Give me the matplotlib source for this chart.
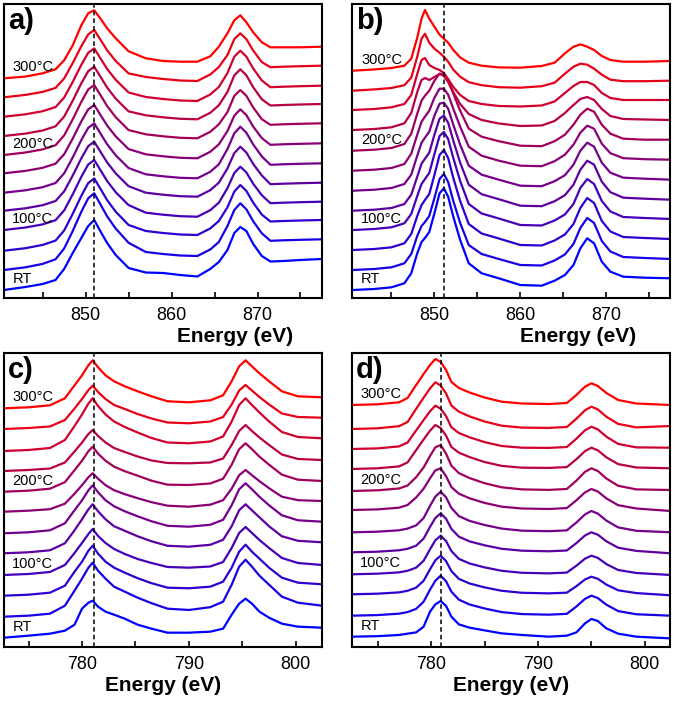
import numpy as np
import matplotlib.pyplot as plt
from matplotlib.ticker import MultipleLocator

plt.rcParams["font.family"] = ["Liberation Sans", "DejaVu Sans"]

# temperature labels shown next to some of the 12 stacked curves (RT ... 300°C, 25°C steps)
label_rows = {0: "RT", 3: "100°C", 7: "200°C", 11: "300°C"}

# ---- panel a : energies, curve offsets and intensities (relative to each curve start)
a_energy = [840.5, 843, 845, 846.5, 847.5, 848.5, 849.5, 850.3, 851, 851.7, 852.5, 853.5, 855, 857, 859,
            861, 863, 864.5, 865.5, 866.5, 867.3, 868, 868.7, 869.5, 870.5, 871.5, 873, 875, 877.5]
a_offset = [8, 28, 47.3, 68, 87.3, 105.3, 124.7, 143, 162, 181.3, 200.7, 219.7]
a_spectra = [
    [0, 3, 6, 10, 21, 37, 52, 64, 70, 59, 47, 35, 22, 17.5, 17, 15, 13.5, 21, 28, 40, 57, 63, 59, 46, 34, 28.5, 29, 30, 31],
    [0, 2.7, 6.1, 10.7, 21.5, 39, 58.3, 71.7, 76.7, 66, 53.7, 41.4, 27.2, 18, 16, 14.5, 14, 20.5, 28, 44, 60, 66.7, 60.7, 48.7, 36.7, 29.2, 29.7, 30.2, 30.7],
    [0, 2.5, 5.8, 10.1, 20.2, 36.9, 54.9, 67.6, 72.3, 62.2, 50.6, 39, 25.7, 19.7, 17.7, 16.2, 15.7, 22.2, 29.7, 43.4, 59.1, 65.7, 59.8, 48, 36.1, 29.2, 29.7, 30.2, 30.7],
    [0, 2.5, 5.6, 9.8, 19.6, 35.7, 53.2, 65.5, 70, 60.2, 49, 37.8, 24.9, 17.3, 15.3, 13.8, 13.3, 19.8, 27.3, 41.8, 57, 63.3, 57.6, 46.2, 34.8, 26.8, 27.3, 27.8, 28.3],
    [0, 2.4, 5.5, 9.7, 19.3, 35.2, 52.4, 64.5, 69, 59.3, 48.3, 37.3, 24.5, 18, 16, 14.5, 14, 20.5, 28, 42.2, 57.6, 64, 58.2, 46.7, 35.2, 26.5, 27, 27.5, 28],
    [0, 2.4, 5.5, 9.7, 19.4, 35.3, 52.7, 64.8, 69.3, 59.6, 48.5, 37.4, 24.6, 18.4, 16.4, 14.9, 14.4, 20.9, 28.4, 43.6, 59.4, 66, 60, 48.2, 36.3, 27.9, 28.4, 28.9, 29.4],
    [0, 2.4, 5.5, 9.6, 19.1, 34.8, 51.9, 63.9, 68.3, 58.7, 47.8, 36.9, 24.2, 19, 17, 15.5, 15, 21.5, 29, 42.2, 57.6, 64, 58.2, 46.7, 35.2, 28.5, 29, 29.5, 30],
    [0, 2.5, 5.6, 9.8, 19.6, 35.7, 53.2, 65.5, 70, 60.2, 49, 37.8, 24.9, 20.7, 18.7, 17.2, 16.7, 23.2, 30.7, 42.9, 59.2, 65, 59.2, 47.5, 35.8, 30.2, 30.7, 31.2, 31.7],
    [0, 2.4, 5.5, 9.7, 19.4, 35.3, 52.7, 64.8, 69.3, 59.6, 48.5, 37.4, 24.6, 20.7, 18.7, 17.2, 16.7, 23.2, 30.7, 44, 60.7, 66.7, 60.7, 48.7, 36.7, 30.5, 31, 31.5, 32],
    [0, 2.4, 5.5, 9.6, 19.1, 34.8, 51.9, 63.9, 68.3, 58.7, 47.8, 36.9, 24.2, 19.7, 17.7, 16.2, 15.7, 22.2, 29.7, 43.6, 60.1, 66, 60.1, 48.2, 36.3, 29.5, 30, 30.5, 31],
    [0, 2.4, 5.4, 9.4, 18.8, 34.3, 51.1, 62.9, 67.3, 57.9, 47.1, 36.3, 23.9, 20.3, 18.3, 16.8, 16.3, 22.8, 30.3, 42.2, 58.2, 64, 58.2, 46.7, 35.2, 30.1, 30.6, 31.1, 31.6],
    [0, 1.7, 5, 9, 18, 33, 53, 65, 68, 60, 50, 40, 27, 20, 17.3, 16.6, 16.6, 22, 31.6, 45, 58, 63, 56, 46, 36, 31, 31, 31, 31.6],
]

# ---- panel b
b_energy = [840.5, 843, 845, 846.5, 847.3, 848, 848.5, 848.9, 849.4, 850, 850.6, 851.1, 851.6, 852.2, 853, 854,
            855.5, 857.5, 860, 862.5, 864, 865.2, 866.2, 867, 867.8, 868.6, 869.5, 870.5, 872, 874.5, 877.5]
b_offset = [8, 28, 48, 68, 87.3, 107.3, 127.3, 147.3, 168, 188, 207.3, 227.3]
b_spectra = [
    [0, 1, 2.7, 6.7, 16.7, 36.7, 48, 52, 58, 76.7, 96.7, 101.7, 93.3, 73.3, 50, 26.7, 16.7, 11.7, 5, 4.3, 9.3, 15, 25, 41.7, 51.7, 46.7, 28.3, 18.3, 13.3, 12.3, 11.7],
    [0, 1, 2.7, 6.7, 16, 34, 44, 48, 54, 72, 91, 96, 88, 69, 47, 25, 16, 11, 5, 4.5, 9.5, 15.5, 26, 42, 52, 47, 29, 18.5, 13, 12, 11],
    [0, 1, 2.7, 6.7, 16, 34, 45, 50, 56, 75, 95, 100, 92, 72, 49, 26, 16.5, 11.5, 5, 4.5, 9.5, 15.5, 26, 42, 52, 47, 29, 18.5, 13, 12, 11],
    [0, 1, 2.7, 6.7, 16, 34, 46, 51, 57, 76, 94, 98, 91, 72, 49, 26, 16.5, 11.5, 5, 4.5, 9.5, 15.5, 26, 42, 51, 46, 29, 18.5, 13, 12, 11],
    [0, 1, 2.7, 6.7, 16, 34, 47, 52, 58, 76, 92, 95, 88, 70, 48, 26, 16.5, 11.5, 5, 4.5, 9.5, 15.5, 26, 41, 50, 46, 29, 18.5, 13, 12, 11],
    [0, 1, 2.7, 6.7, 16, 35, 48, 53, 59, 75, 87, 88, 82, 66, 46, 25, 16, 11, 5, 4.5, 9.5, 15.5, 26, 40, 48, 44, 28, 18, 13, 12, 11],
    [0, 1, 2.7, 6.7, 17, 36, 49, 54, 60, 73, 82, 82, 76, 62, 44, 24, 15, 10, 5, 4.5, 9.5, 16, 26, 38, 45, 42, 27, 17.5, 12.5, 11.5, 11],
    [0, 1, 2.7, 6.7, 17, 37, 50, 55, 60, 70, 77, 76, 70, 57, 40, 22, 14, 9.5, 5, 4.5, 9.5, 16, 26, 36, 42, 39, 26, 17, 12, 11, 11],
    [0, 1, 2.7, 6.7, 17, 38, 50, 52, 50, 53, 56, 54, 48, 38, 26, 16, 10, 6.5, 4, 4.5, 9, 17, 25, 31, 33, 30, 21, 14, 11, 10.5, 10],
    [0, 1, 2.7, 6, 15, 36, 50, 52, 45, 42, 40, 37, 31, 23, 15, 9, 6, 4, 3.5, 4.5, 8.5, 17, 24, 28, 28, 25, 17, 12, 10, 10, 10],
    [0, 1.3, 2.7, 5.5, 13, 34, 52, 57, 48, 42, 38, 34, 29, 21, 14, 8.5, 5.5, 3.5, 3, 4.5, 8, 17, 24, 27, 26, 22, 16, 11, 9.5, 9.5, 10],
    [0, 1.3, 2.7, 5, 12, 33, 52, 60.7, 52, 44, 36, 32, 28, 20.7, 13.3, 8, 5, 3.3, 3, 4.7, 8, 17.3, 24, 26.3, 24, 20.7, 14.7, 10.7, 9, 9, 9.7],
]

# ---- panel c
c_energy = [772.7, 775, 777, 778.4, 779.3, 780.0, 780.6, 781.0, 781.5, 782.2, 783.0, 784.0, 785.2, 786.5,
            788, 790, 792, 793.2, 794.0, 794.7, 795.3, 795.9, 796.6, 797.5, 798.7, 800.2, 802.45]
c_offset = [9, 30, 51, 71.7, 93.4, 113.4, 135, 155, 175.7, 195.7, 217.7, 238.4]
c_spectra = [
    [0, 2, 4, 7, 13, 29, 35, 37, 31, 26, 23, 19, 13, 9, 5, 5, 6, 9, 23, 34, 39, 34, 26, 20, 14, 11, 10],
    [0, 1, 3, 11, 26, 38, 49, 54, 46, 38, 30, 25, 19, 13.5, 8, 6.7, 9.5, 15, 32, 50, 57, 50, 41, 32, 20, 14, 11],
    [0, 1, 3, 10, 24, 34, 45, 50, 42, 34, 28, 23, 17.5, 12.5, 8, 7.4, 9, 14, 28, 44, 51, 44, 37, 28, 18, 13, 11.4],
    [0, 1, 3, 10, 22, 32, 41, 46, 39, 32, 26, 21, 16, 12, 8, 7.3, 8.5, 13, 27, 42, 48, 42, 35, 27, 17, 12, 10],
    [0, 1, 3, 10, 23, 34, 44, 49, 42, 34, 27, 22.5, 17, 12, 7.5, 6.6, 8.5, 13.5, 27, 43, 49, 43, 36, 27, 17, 12.5, 11],
    [0, 1, 3, 10, 23, 33, 43, 48, 41, 33, 27, 22, 17, 12, 7.5, 6.6, 8.5, 13.5, 28, 44, 50, 44, 36.5, 28, 18, 13, 11.6],
    [0, 1, 2.5, 8, 18, 26.5, 34.5, 38.4, 33, 26.5, 21.5, 17.5, 13.5, 9.5, 6, 5, 7, 11.5, 23, 36.5, 41.7, 36.5, 30.5, 23.5, 15, 11.5, 10.7],
    [0, 1, 3, 9.5, 21.5, 31, 40.5, 45, 38, 31, 25, 20.5, 16, 11, 7, 6.7, 8.2, 13, 27, 42.5, 48.4, 42.5, 35, 27, 17, 12, 10.7],
    [0, 1, 2.5, 8.5, 19.5, 28.5, 37, 41, 35, 28.5, 23, 19, 14.5, 10.5, 8, 7.7, 8.5, 12.5, 26, 40, 46, 40, 33.5, 26, 16.5, 12, 11],
    [0, 1, 3, 11, 25, 36.5, 47.5, 52.7, 45, 36.5, 29.5, 24, 18.5, 13, 8.5, 7.7, 9.5, 14.5, 29.5, 46, 52.7, 46, 38.5, 29.5, 19, 14, 12.7],
    [0, 1, 2.5, 9, 20.5, 30, 39, 43.3, 37, 30, 24, 20, 15, 10.5, 6.5, 5.7, 7.5, 12, 24.5, 38.5, 44, 38.5, 32, 24.5, 15.5, 12, 11.3],
    [0, 1, 3, 10, 23, 33, 43, 48, 41, 33, 27, 22, 17, 12, 7, 6, 8, 13, 27, 42, 48, 42, 35, 27, 17, 12, 11],
]

# ---- panel d
d_energy = [772.6, 775, 777, 777.8, 778.6, 779.3, 779.9, 780.4, 780.9, 781.4, 781.9, 782.6, 783.6, 785,
            786.6, 788.5, 791, 792.7, 793.6, 794.4, 795.0, 795.6, 796.4, 797.5, 799.2, 802.4]
d_offset = [10, 31, 52.4, 72.4, 94.4, 114.4, 136.7, 155.7, 177.7, 197.7, 217.7, 241.7]
d_spectra = [
    [0, 0.5, 1.7, 3, 4.3, 10, 25, 32.3, 35.7, 30.7, 20, 12.3, 9, 6.3, 3.3, 1.7, 0, 1, 4.3, 13.3, 17.7, 15.7, 8.3, 3, 0, -1.7],
    [0, 0.6, 2, 3.6, 6.8, 14, 26, 35, 40, 34.4, 24, 16, 11.2, 7.2, 3.6, 1.6, 1, 1.8, 9.2, 16.8, 20, 17.6, 11, 4.6, 1.4, 0],
    [0, 0.6, 1.9, 3.5, 6.6, 13.5, 25, 34, 38.6, 33.2, 23.2, 15.4, 10.8, 6.9, 3.5, 1.5, 0.9, 1.6, 8.1, 14.8, 17.6, 15.5, 9.7, 4, 1.2, -1],
    [0, 0.6, 1.9, 3.5, 6.6, 13.5, 25, 34, 38.6, 33.2, 23.2, 15.4, 10.8, 6.9, 3.5, 1.5, 0.9, 1.7, 8.6, 15.6, 18.6, 16.4, 10.2, 4.3, 1.3, -0.7],
    [0, 0.6, 2, 3.5, 6.6, 13.7, 25.4, 34.3, 39, 33.5, 23.4, 15.6, 10.9, 7, 3.5, 1.6, 1, 1.8, 9.2, 16.8, 20, 17.6, 11, 4.6, 1.4, -1],
    [0, 0.6, 2, 3.7, 6.9, 14.2, 26.4, 35.7, 40.6, 34.9, 24.4, 16.2, 11.4, 7.3, 3.7, 1.6, 1.1, 1.9, 9.8, 17.9, 21.3, 18.7, 11.7, 4.9, 1.5, 0],
    [0, 0.6, 2.3, 5, 12.5, 21.3, 31.7, 39.6, 41.7, 33.8, 22.9, 16.3, 11.7, 7.1, 3.3, 1.5, 1, 1.9, 9.7, 17.6, 21, 18.5, 11.6, 4.8, 1.5, -1],
    [0, 0.7, 2.5, 5.5, 13.8, 23.5, 35, 43.7, 46, 37.3, 25.3, 17.9, 12.9, 7.8, 3.7, 1.6, 1.1, 2, 10.4, 19.1, 22.7, 20, 12.5, 5.2, 1.6, 1],
    [0, 0.7, 2.6, 6.6, 18.9, 29.5, 38.3, 44, 40.9, 33.4, 22, 16.3, 11.9, 7, 3.1, 1.3, 1.1, 1.9, 9.8, 17.9, 21.3, 18.7, 11.7, 4.9, 1.5, 0.7],
    [0, 0.6, 2.6, 6.5, 18.6, 29, 37.7, 43.3, 40.3, 32.9, 21.7, 16, 11.7, 6.9, 3, 1.3, 1.1, 2, 10.3, 18.7, 22.3, 19.6, 12.3, 5.1, 1.6, 1.3],
    [0, 0.7, 2.8, 7, 20.1, 31.3, 40.6, 46.7, 43.4, 35.5, 23.4, 17.3, 12.6, 7.5, 3.3, 1.4, 1.1, 2, 10.3, 18.7, 22.3, 19.6, 12.3, 5.1, 1.6, 3],
    [0, 0.7, 2.7, 7, 20, 31, 40, 46, 43, 35, 23, 17, 12.5, 7.5, 3.3, 1.5, 1, 2, 10, 18.3, 21.7, 19, 12, 5, 1.5, 0],
]

# letter, data, dashed line, limits, axes rect, xlabel position
panels = [
    ("a)", a_energy, a_offset, a_spectra, 851.0, (840.5, 877.5), (0, 294), [0.0059, 0.5749, 0.4711, 0.4194], (0.727, -0.1)),
    ("b)", b_energy, b_offset, b_spectra, 851.1, (840.4, 877.5), (0, 294), [0.5215, 0.5749, 0.4718, 0.4194], (0.71, -0.1)),
    ("c)", c_energy, c_offset, c_spectra, 781.1, (772.7, 802.45), (0, 293.4), [0.0059, 0.0775, 0.4711, 0.4185], (0.5, -0.1)),
    ("d)", d_energy, d_offset, d_spectra, 780.9, (772.6, 802.4), (0, 293.4), [0.5215, 0.0775, 0.4718, 0.4185], (0.5, -0.1)),
]

n_curves = 12
colors = [(i / (n_curves - 1), 0.0, 1.0 - i / (n_curves - 1)) for i in range(n_curves)]

fig = plt.figure(figsize=(6.75, 7.01), dpi=100)

for letter, energy, offset, spectra, dash_x, xlim, ylim, rect, label_pos in panels:
    ax = fig.add_axes(rect)
    energy = np.array(energy)
    for i in range(n_curves):
        y = np.array(spectra[i]) + offset[i]
        ax.plot(energy, y, color=colors[i], lw=1.6, solid_joinstyle="round")
        if i in label_rows:
            ax.annotate(label_rows[i], xy=(energy[0], y[0]), xytext=(3 if letter in "ac" else 6, 3),
                        textcoords="offset points", fontsize=10.5, ha="left", va="bottom")
    ax.axvline(dash_x, color="black", ls=(0, (3, 2)), lw=1.1)
    ax.set_xlim(xlim)
    ax.set_ylim(ylim)
    ax.xaxis.set_major_locator(MultipleLocator(10))
    ax.xaxis.set_minor_locator(MultipleLocator(5))
    ax.tick_params(axis="x", which="both", direction="in", length=4.5, width=1.2, labelsize=13, pad=6.5)
    ax.set_yticks([])
    for sp in ax.spines.values():
        sp.set_linewidth(1.5)
    ax.set_xlabel("Energy (eV)", fontsize=15, fontweight="bold", labelpad=0)
    ax.xaxis.set_label_coords(*label_pos)
    ax.text(0.012, 0.99, letter, transform=ax.transAxes, fontsize=21, fontweight="bold", ha="left", va="top")

fig.savefig("out.png", dpi=100)
